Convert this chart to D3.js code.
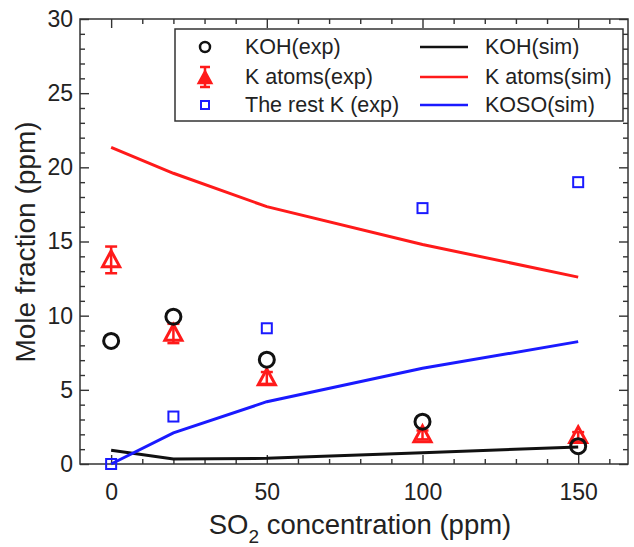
<!DOCTYPE html>
<html>
<head>
<meta charset="utf-8">
<script src="https://cdn.jsdelivr.net/npm/d3@7"></script>
<style>
  body { margin: 0; background: #fff; }
  text { font-family: "Liberation Sans", Arial, sans-serif; fill: #222; }
</style>
</head>
<body>
<svg id="chart"></svg>
<script>
// values
const so2 = [0, 20, 50, 100, 150];
const kohExp = [8.3, 9.93, 7.03, 2.85, 1.2];
const kAtomsExp = [13.76, 8.8, 5.8, 1.96, 1.9];
const kAtomsErr = [0.9, 0.65, 0.4, 0.3, 0.25];
const restKExp = [0, 3.2, 9.15, 17.25, 19.0];
const kohSim = [0.92, 0.33, 0.38, 0.76, 1.15];
const kAtomsSim = [21.35, 19.6, 17.35, 14.8, 12.6];
const kosoSim = [0, 2.1, 4.2, 6.45, 8.25];

const xMajor = [0, 50, 100, 150];
const yMajor = [0, 5, 10, 15, 20, 25, 30];

const W = 634, H = 547;
const plotL = 80, plotR = 628, plotT = 19, plotB = 464;

const svg = d3.select("#chart").attr("width", W).attr("height", H);

const x = d3.scaleLinear().domain([-10, 166]).range([plotL, plotR]);
const y = d3.scaleLinear().domain([0, 30]).range([plotB, plotT]);

const RED = "#ff1a1a", BLUE = "#1a1aff", BLACK = "#111";

// frame
svg.append("rect")
    .attr("x", plotL).attr("y", plotT)
    .attr("width", plotR - plotL).attr("height", plotB - plotT)
    .attr("fill", "none").attr("stroke", "#333").attr("stroke-width", 1.5);

const xMinor = d3.range(10, 166, 10).filter(d => xMajor.indexOf(d) < 0);
const yMinor = d3.range(1, 30, 1).filter(d => yMajor.indexOf(d) < 0);

function tickStyle(g) {
    g.select(".domain").remove();
    g.selectAll(".tick line").attr("stroke", "#333").attr("stroke-width", 1.4);
}

// bottom axis
svg.append("g").attr("transform", `translate(0,${plotB})`)
    .call(d3.axisBottom(x).tickValues(xMajor).tickSize(-9).tickPadding(20))
    .call(tickStyle)
    .selectAll("text").style("font-size", "23px").attr("fill", "#222");
svg.append("g").attr("transform", `translate(0,${plotB})`)
    .call(d3.axisBottom(x).tickValues(xMinor).tickSize(-5).tickFormat(""))
    .call(tickStyle);
// top axis
svg.append("g").attr("transform", `translate(0,${plotT})`)
    .call(d3.axisTop(x).tickValues(xMajor).tickSize(-9).tickFormat(""))
    .call(tickStyle);
svg.append("g").attr("transform", `translate(0,${plotT})`)
    .call(d3.axisTop(x).tickValues(xMinor).tickSize(-5).tickFormat(""))
    .call(tickStyle);
// left axis
svg.append("g").attr("transform", `translate(${plotL},0)`)
    .call(d3.axisLeft(y).tickValues(yMajor).tickSize(-9).tickPadding(7))
    .call(tickStyle)
    .selectAll("text").style("font-size", "23px").attr("fill", "#222");
svg.append("g").attr("transform", `translate(${plotL},0)`)
    .call(d3.axisLeft(y).tickValues(yMinor).tickSize(-5).tickFormat(""))
    .call(tickStyle);
// right axis
svg.append("g").attr("transform", `translate(${plotR},0)`)
    .call(d3.axisRight(y).tickValues(yMajor).tickSize(-9).tickFormat(""))
    .call(tickStyle);
svg.append("g").attr("transform", `translate(${plotR},0)`)
    .call(d3.axisRight(y).tickValues(yMinor).tickSize(-5).tickFormat(""))
    .call(tickStyle);

// axis titles
svg.append("text")
    .attr("transform", "translate(25,242) rotate(-90)")
    .attr("text-anchor", "middle")
    .attr("dominant-baseline", "central")
    .style("font-size", "28px")
    .text("Mole fraction (ppm)");

const xt = svg.append("text")
    .attr("x", 360).attr("y", 534)
    .attr("text-anchor", "middle")
    .style("font-size", "27.5px");
xt.append("tspan").text("SO");
xt.append("tspan").attr("dy", 9).style("font-size", "19px").text("2");
xt.append("tspan").attr("dy", -9).text(" concentration (ppm)");

// simulation lines
const line = d3.line().x((d, i) => x(so2[i])).y(d => y(d));
[[kohSim, BLACK], [kAtomsSim, RED], [kosoSim, BLUE]].forEach(([vals, c]) => {
    svg.append("path").datum(vals)
        .attr("d", line)
        .attr("fill", "none").attr("stroke", c).attr("stroke-width", 3);
});

// triangle marker path
function triPath(s) {
    return `M0,${-s}L${s * 0.95},${s * 0.75}L${-s * 0.95},${s * 0.75}Z`;
}

// K atoms (exp) error bars + triangles
const kGroup = svg.append("g");
so2.forEach((v, i) => {
    const cx = x(v);
    const y1 = y(kAtomsExp[i] + kAtomsErr[i]);
    const y2 = y(kAtomsExp[i] - kAtomsErr[i]);
    kGroup.append("line").attr("x1", cx).attr("x2", cx).attr("y1", y1).attr("y2", y2)
        .attr("stroke", RED).attr("stroke-width", 2.5);
    [y1, y2].forEach(yy => kGroup.append("line")
        .attr("x1", cx - 6).attr("x2", cx + 6).attr("y1", yy).attr("y2", yy)
        .attr("stroke", RED).attr("stroke-width", 2.5));
    kGroup.append("path").attr("d", triPath(9))
        .attr("transform", `translate(${cx},${y(kAtomsExp[i])})`)
        .attr("fill", "none").attr("stroke", RED).attr("stroke-width", 3);
});

// KOH (exp) circles
svg.selectAll("circle.koh").data(kohExp).enter().append("circle")
    .attr("class", "koh")
    .attr("cx", (d, i) => x(so2[i])).attr("cy", d => y(d))
    .attr("r", 7.5)
    .attr("fill", "none").attr("stroke", BLACK).attr("stroke-width", 3);

// The rest K (exp) squares
svg.selectAll("rect.rest").data(restKExp).enter().append("rect")
    .attr("class", "rest")
    .attr("x", (d, i) => x(so2[i]) - 5).attr("y", d => y(d) - 5)
    .attr("width", 10).attr("height", 10)
    .attr("fill", "none").attr("stroke", BLUE).attr("stroke-width", 2);

// legend
const lg = svg.append("g");
lg.append("rect").attr("x", 175).attr("y", 29).attr("width", 448).attr("height", 92)
    .attr("fill", "#fff").attr("stroke", "#333").attr("stroke-width", 1.5);

const rowY = [47, 77, 105];
const leftLabels = ["KOH(exp)", "K atoms(exp)", "The rest K (exp)"];
const rightLabels = ["KOH(sim)", "K atoms(sim)", "KOSO(sim)"];
const lineColors = [BLACK, RED, BLUE];

lg.append("circle").attr("cx", 205).attr("cy", rowY[0]).attr("r", 5)
    .attr("fill", "none").attr("stroke", BLACK).attr("stroke-width", 2.5);
lg.append("line").attr("x1", 205).attr("x2", 205).attr("y1", rowY[1] - 10).attr("y2", rowY[1] + 10)
    .attr("stroke", RED).attr("stroke-width", 2.5);
[rowY[1] - 10, rowY[1] + 10].forEach(yy => lg.append("line")
    .attr("x1", 200).attr("x2", 210).attr("y1", yy).attr("y2", yy)
    .attr("stroke", RED).attr("stroke-width", 2.5));
lg.append("path").attr("d", triPath(7)).attr("transform", `translate(205,${rowY[1] + 1})`)
    .attr("fill", RED).attr("stroke", RED).attr("stroke-width", 2);
lg.append("rect").attr("x", 201).attr("y", rowY[2] - 4).attr("width", 8).attr("height", 8)
    .attr("fill", "none").attr("stroke", BLUE).attr("stroke-width", 2);

leftLabels.forEach((t, i) => lg.append("text")
    .attr("x", 245).attr("y", rowY[i]).attr("dominant-baseline", "central")
    .style("font-size", "21.5px").text(t));
rightLabels.forEach((t, i) => {
    lg.append("line").attr("x1", 420).attr("x2", 468).attr("y1", rowY[i]).attr("y2", rowY[i])
        .attr("stroke", lineColors[i]).attr("stroke-width", 2.5);
    lg.append("text")
        .attr("x", 485).attr("y", rowY[i]).attr("dominant-baseline", "central")
        .style("font-size", "21.5px").text(t);
});
</script>
</body>
</html>
